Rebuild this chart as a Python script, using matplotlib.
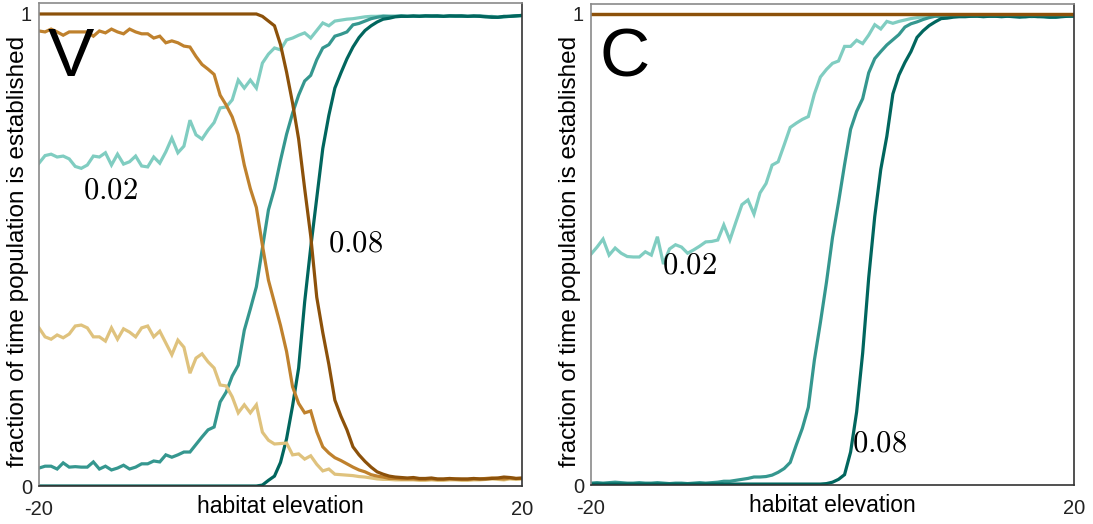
import numpy as np
import matplotlib
matplotlib.use("Agg")
import matplotlib.pyplot as plt

plt.rcParams['font.family'] = ['Liberation Sans', 'DejaVu Sans']
plt.rcParams['mathtext.fontset'] = 'cm'

# habitat elevation grid (-20 .. 20, step 0.5)
x = np.linspace(-20, 20, 81)

# ---- panel V ----
v_teal_002 = [0.684, 0.700, 0.703, 0.697, 0.699, 0.693, 0.677, 0.673, 0.680, 0.699,
              0.697, 0.706, 0.680, 0.703, 0.682, 0.687, 0.699, 0.678, 0.676, 0.697,
              0.684, 0.708, 0.737, 0.706, 0.720, 0.775, 0.744, 0.735, 0.754, 0.770,
              0.801, 0.803, 0.818, 0.860, 0.843, 0.860, 0.843, 0.896, 0.915, 0.928,
              0.924, 0.945, 0.949, 0.955, 0.960, 0.949, 0.965, 0.981, 0.975, 0.985,
              0.987, 0.989, 0.990, 0.992, 0.994, 0.995, 0.995, 0.996, 0.995, 0.995,
              0.996, 0.995, 0.995, 0.996, 0.995, 0.995, 0.996, 0.995, 0.995, 0.995,
              0.996, 0.995, 0.995, 0.995, 0.994, 0.995, 0.993, 0.994, 0.995, 0.996, 0.996]
v_teal_005 = [0.038, 0.042, 0.042, 0.036, 0.049, 0.040, 0.041, 0.040, 0.040, 0.051,
              0.036, 0.042, 0.034, 0.038, 0.044, 0.036, 0.040, 0.047, 0.047, 0.053,
              0.051, 0.066, 0.061, 0.066, 0.072, 0.072, 0.088, 0.104, 0.119, 0.125,
              0.178, 0.199, 0.233, 0.256, 0.330, 0.375, 0.422, 0.504, 0.585, 0.630,
              0.690, 0.745, 0.790, 0.828, 0.858, 0.870, 0.903, 0.928, 0.935, 0.953,
              0.957, 0.962, 0.977, 0.980, 0.985, 0.990, 0.993, 0.995, 0.995, 0.995,
              0.996, 0.995, 0.995, 0.995, 0.996, 0.995, 0.995, 0.995, 0.996, 0.995,
              0.995, 0.995, 0.995, 0.996, 0.995, 0.994, 0.993, 0.994, 0.995, 0.996, 0.997]
v_teal_008 = [0.0] * 37 + [
              0.002, 0.012, 0.021, 0.050, 0.100, 0.170, 0.250, 0.390, 0.505, 0.610,
              0.715, 0.785, 0.843, 0.875, 0.905, 0.930, 0.950, 0.965, 0.975, 0.983,
              0.989, 0.991, 0.994,
              0.995, 0.995, 0.996, 0.995, 0.996, 0.996, 0.996, 0.995, 0.996, 0.996,
              0.996, 0.995, 0.996, 0.995, 0.994, 0.993, 0.993, 0.995, 0.995, 0.996, 0.997]
v_wheat = [0.335, 0.316, 0.311, 0.320, 0.314, 0.322, 0.339, 0.341, 0.335, 0.316,
           0.316, 0.307, 0.335, 0.311, 0.333, 0.326, 0.316, 0.335, 0.339, 0.316,
           0.328, 0.303, 0.278, 0.309, 0.294, 0.239, 0.271, 0.280, 0.263, 0.250,
           0.214, 0.212, 0.189, 0.155, 0.172, 0.155, 0.172, 0.114, 0.097, 0.089,
           0.090, 0.091, 0.066, 0.068, 0.057, 0.064, 0.046, 0.032, 0.036, 0.025,
           0.024, 0.023, 0.022, 0.020, 0.019, 0.017, 0.015, 0.014, 0.014, 0.013,
           0.013, 0.013, 0.013, 0.012, 0.012, 0.013, 0.012, 0.012, 0.013, 0.013,
           0.012, 0.012, 0.013, 0.013, 0.014, 0.015, 0.014, 0.013, 0.015, 0.014, 0.015]
v_brown_mid = [0.964, 0.962, 0.968, 0.962, 0.955, 0.962, 0.962, 0.962, 0.962, 0.953,
               0.964, 0.960, 0.968, 0.962, 0.958, 0.968, 0.962, 0.958, 0.958, 0.949,
               0.953, 0.939, 0.943, 0.939, 0.932, 0.930, 0.910, 0.893, 0.883, 0.872,
               0.828, 0.807, 0.782, 0.744, 0.680, 0.630, 0.590, 0.510, 0.436, 0.388,
               0.340, 0.285, 0.210, 0.175, 0.155, 0.159, 0.115, 0.083, 0.070, 0.060,
               0.054, 0.047, 0.040, 0.034, 0.030, 0.024, 0.021, 0.019, 0.016, 0.016,
               0.015, 0.015, 0.015, 0.014, 0.014, 0.015, 0.014, 0.014, 0.015, 0.015,
               0.014, 0.014, 0.015, 0.015, 0.016, 0.017, 0.016, 0.015, 0.017, 0.016, 0.016]
v_brown_dark = [1.0] * 37 + [
                0.995, 0.985, 0.975, 0.935, 0.877, 0.811, 0.735, 0.630, 0.530, 0.400,
                0.325, 0.258, 0.182, 0.148, 0.119, 0.083, 0.066, 0.052, 0.040, 0.030,
                0.025, 0.021, 0.019,
                0.018, 0.017, 0.018, 0.016, 0.016, 0.017, 0.015, 0.015, 0.016, 0.015,
                0.015, 0.015, 0.016, 0.015, 0.015, 0.016, 0.017, 0.019, 0.018, 0.016, 0.017]

# ---- panel C ----
c_teal_002 = [0.490, 0.505, 0.522, 0.488, 0.503, 0.492, 0.485, 0.484, 0.484, 0.495,
              0.488, 0.527, 0.469, 0.501, 0.510, 0.505, 0.492, 0.499, 0.507, 0.516,
              0.517, 0.520, 0.552, 0.520, 0.558, 0.595, 0.605, 0.575, 0.620, 0.640,
              0.679, 0.686, 0.722, 0.759, 0.768, 0.776, 0.782, 0.830, 0.866, 0.882,
              0.895, 0.900, 0.931, 0.931, 0.944, 0.937, 0.955, 0.977, 0.968, 0.984,
              0.980, 0.984, 0.987, 0.990, 0.992, 0.994, 0.995, 0.995, 0.996, 0.995,
              0.996, 0.996, 0.995, 0.996, 0.996, 0.996, 0.995, 0.996, 0.995, 0.995,
              0.996, 0.995, 0.995, 0.994, 0.995, 0.995, 0.994, 0.993, 0.995, 0.996, 0.996]
c_teal_005 = [0.004, 0.005, 0.004, 0.005, 0.006, 0.005, 0.004, 0.004, 0.005, 0.004,
              0.004, 0.005, 0.004, 0.003, 0.004, 0.004, 0.003, 0.004, 0.005, 0.004,
              0.005, 0.006, 0.008, 0.008, 0.010, 0.012, 0.014, 0.017, 0.017, 0.018,
              0.021, 0.027, 0.035, 0.048, 0.085, 0.120, 0.165, 0.265, 0.345, 0.430,
              0.525, 0.600, 0.680, 0.755, 0.793, 0.820, 0.875, 0.905, 0.920, 0.934,
              0.945, 0.956, 0.972, 0.979, 0.983, 0.988, 0.992, 0.995, 0.995, 0.996,
              0.995, 0.995, 0.996, 0.995, 0.996, 0.995, 0.995, 0.995, 0.996, 0.995,
              0.995, 0.995, 0.994, 0.995, 0.995, 0.994, 0.993, 0.994, 0.995, 0.995, 0.996]
c_teal_008 = [0.002] * 39 + [
              0.003, 0.006, 0.012, 0.022, 0.070, 0.155, 0.280, 0.440, 0.570, 0.670,
              0.740, 0.830, 0.870, 0.897, 0.920, 0.950, 0.964, 0.975, 0.983, 0.990,
              0.991,
              0.993, 0.994, 0.994, 0.995, 0.995, 0.994, 0.995, 0.995, 0.994, 0.995,
              0.994, 0.993, 0.994, 0.995, 0.994, 0.994, 0.993, 0.993, 0.994, 0.995, 0.995]
c_wheat = [1.0] * 81
c_brown_mid = [1.0] * 81
c_brown_dark = [0.999] * 81

teal_colors = ['#80cdc1', '#35978f', '#01665e']
brown_colors = ['#dfc27d', '#bf812d', '#8c510a']

panels = [
    dict(pos=[0.0357, 0.0725, 0.4419, 0.9218], ytop=1.0233, letter='V',
         teals=[v_teal_002, v_teal_005, v_teal_008],
         browns=[v_wheat, v_brown_mid, v_brown_dark],
         labels=[(-16.36, 0.625, '0.02'), (3.92, 0.513, '0.08')]),
    dict(pos=[0.5407, 0.0744, 0.4419, 0.9180], ytop=1.021, letter='C',
         teals=[c_teal_002, c_teal_005, c_teal_008],
         browns=[c_wheat, c_brown_mid, c_brown_dark],
         labels=[(-14.12, 0.465, '0.02'), (1.62, 0.089, '0.08')]),
]

fig = plt.figure(figsize=(10.93, 5.24), dpi=100)

for p in panels:
    ax = fig.add_axes(p['pos'])
    for y, c in zip(p['teals'], teal_colors):
        ax.plot(x, y, color=c, lw=2.3, solid_joinstyle='miter')
    for y, c in zip(p['browns'], brown_colors):
        ax.plot(x, y, color=c, lw=2.3, solid_joinstyle='miter')

    ax.set_xlim(-20, 20)
    ax.set_ylim(0, p['ytop'])
    ax.set_xticks([-20, 20])
    ax.set_xticklabels(['-20', '20'])
    ax.set_yticks([0, 1])
    ax.set_yticklabels(['0', '1'])
    ax.tick_params(length=0, labelsize=14.5, colors='#222222')
    ax.tick_params(axis='x', pad=10)
    ax.tick_params(axis='y', pad=5)
    ax.set_xlabel('habitat elevation', fontsize=16.5, labelpad=-17)
    ax.set_ylabel('fraction of time population is established', fontsize=17.5)
    ax.yaxis.set_label_coords(-0.02, 0.485)

    for side in ['left', 'top']:
        ax.spines[side].set_color('#8a8a8a')
    for side in ['right', 'bottom']:
        ax.spines[side].set_color('#333333')
    for s in ax.spines.values():
        s.set_linewidth(1.2)

    ax.text(-19.3, 0.868, p['letter'], fontsize=50, ha='left', va='baseline')
    for lx, ly, txt in p['labels']:
        ax.text(lx, ly, '$' + txt + '$', fontsize=22, ha='left', va='center')

fig.savefig('out.png', dpi=100)
